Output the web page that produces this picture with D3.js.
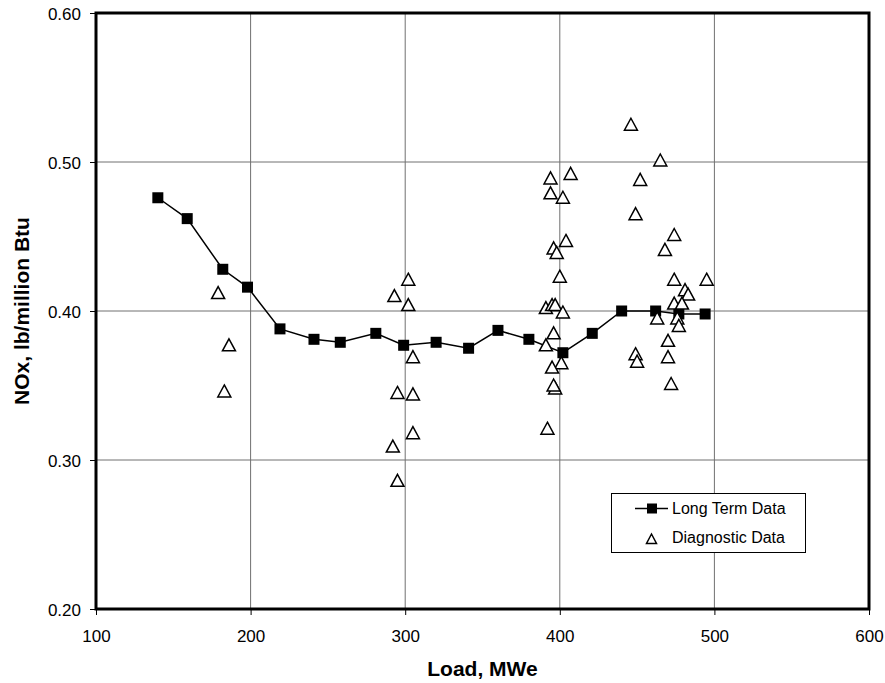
<!DOCTYPE html>
<html>
<head>
<meta charset="utf-8">
<script src="https://cdn.jsdelivr.net/npm/d3@7"></script>
<style>
  html, body { margin: 0; padding: 0; background: #fff; }
  svg { display: block; font-family: "Liberation Sans", Arial, sans-serif; }
</style>
</head>
<body>
<svg id="chart" width="885" height="683"></svg>
<script>
// ---- Data ----
const longTermLoad = [140, 159, 182, 198, 219, 241, 258, 281, 299, 320, 341, 360, 380, 402, 421, 440, 462, 477, 494];
const longTermNOx  = [0.476, 0.462, 0.428, 0.416, 0.388, 0.381, 0.379, 0.385, 0.377, 0.379, 0.375, 0.387, 0.381, 0.372, 0.385, 0.400, 0.400, 0.398, 0.398];

const diagLoad = [179, 186, 183,
  302, 293, 302, 305, 295, 305, 305, 292, 295,
  446, 465, 452, 407, 394, 394, 402, 449, 474, 404, 396, 398, 468, 400, 474, 495, 481, 483,
  474, 479, 391, 395, 397, 402, 463, 476, 477, 396, 391, 470, 449, 450, 470, 401, 395, 397, 396, 472, 392];
const diagNOx = [0.412, 0.377, 0.346,
  0.421, 0.410, 0.404, 0.369, 0.345, 0.344, 0.318, 0.309, 0.286,
  0.525, 0.501, 0.488, 0.492, 0.489, 0.479, 0.476, 0.465, 0.451, 0.447, 0.442, 0.439, 0.441, 0.423, 0.421, 0.421, 0.414, 0.411,
  0.405, 0.405, 0.402, 0.404, 0.404, 0.399, 0.395, 0.395, 0.390, 0.385, 0.377, 0.380, 0.371, 0.366, 0.369, 0.365, 0.362, 0.348, 0.350, 0.351, 0.321];

const xTicks = [100, 200, 300, 400, 500, 600];
const yTicks = [0.20, 0.30, 0.40, 0.50, 0.60];
const xTitle = "Load, MWe";
const yTitle = "NOx, lb/million Btu";
const seriesNames = ["Long Term Data", "Diagnostic Data"];

// ---- Layout ----
const svg = d3.select("#chart");
const L = 96, R = 869, T = 13, B = 609;

const x = d3.scaleLinear().domain([100, 600]).range([L, R]);
const y = d3.scaleLinear().domain([0.20, 0.60]).range([B, T]);

// grid
const grid = svg.append("g");
grid.selectAll("line.vx").data(xTicks.slice(1, -1)).join("line")
  .attr("x1", d => x(d)).attr("x2", d => x(d)).attr("y1", T).attr("y2", B)
  .attr("stroke", "#707070").attr("stroke-width", 1);
grid.selectAll("line.hy").data(yTicks.slice(1, -1)).join("line")
  .attr("x1", L).attr("x2", R).attr("y1", d => y(d)).attr("y2", d => y(d))
  .attr("stroke", "#707070").attr("stroke-width", 1);

// axes
const xAxis = d3.axisBottom(x).tickValues(xTicks).tickSize(6).tickPadding(15).tickFormat(d3.format("d"));
const yAxis = d3.axisLeft(y).tickValues(yTicks).tickSize(6).tickPadding(9).tickFormat(d3.format(".2f"));

const gx = svg.append("g").attr("transform", `translate(0,${B})`).call(xAxis);
const gy = svg.append("g").attr("transform", `translate(${L},0)`).call(yAxis);
[gx, gy].forEach(g => {
  g.select(".domain").remove();
  g.selectAll(".tick line").attr("stroke", "#000").attr("stroke-width", 1);
  g.selectAll(".tick text").attr("fill", "#000").style("font-size", "17px")
    .style("font-family", "'Liberation Sans', Arial, sans-serif");
});
gy.selectAll(".tick text").attr("dy", "0.36em");

// frame
svg.append("rect").attr("x", L).attr("y", T).attr("width", R - L).attr("height", B - T)
  .attr("fill", "none").attr("stroke", "#000").attr("stroke-width", 3);

// long term series
const lt = longTermLoad.map((d, i) => ({x: d, y: longTermNOx[i]}));
const line = d3.line().x(d => x(d.x)).y(d => y(d.y));
svg.append("path").datum(lt).attr("d", line)
  .attr("fill", "none").attr("stroke", "#000").attr("stroke-width", 1.5);
const sq = 11;
svg.append("g").selectAll("rect").data(lt).join("rect")
  .attr("x", d => x(d.x) - sq / 2).attr("y", d => y(d.y) - sq / 2)
  .attr("width", sq).attr("height", sq).attr("fill", "#000");

// diagnostic series
const dg = diagLoad.map((d, i) => ({x: d, y: diagNOx[i]}));
const tri = "M0,-6.5L6.5,5.5L-6.5,5.5Z";
svg.append("g").selectAll("path").data(dg).join("path")
  .attr("d", tri)
  .attr("transform", d => `translate(${x(d.x)},${y(d.y)})`)
  .attr("fill", "#fff").attr("stroke", "#000").attr("stroke-width", 1.5);

// titles
svg.append("text").attr("x", (L + R) / 2).attr("y", 676).attr("text-anchor", "middle")
  .style("font-size", "21px").style("font-weight", "bold").text(xTitle);
svg.append("text").attr("transform", `translate(29,${(T + B) / 2}) rotate(-90)`)
  .attr("text-anchor", "middle").style("font-size", "21px").style("font-weight", "bold").text(yTitle);

// legend
const lg = svg.append("g");
lg.append("rect").attr("x", 611.5).attr("y", 493.5).attr("width", 194).attr("height", 59)
  .attr("fill", "#fff").attr("stroke", "#000").attr("stroke-width", 1);
lg.append("line").attr("x1", 635).attr("x2", 668).attr("y1", 508.5).attr("y2", 508.5)
  .attr("stroke", "#000").attr("stroke-width", 1.5);
lg.append("rect").attr("x", 647).attr("y", 503.5).attr("width", 10).attr("height", 10).attr("fill", "#000");
lg.append("path").attr("d", "M0,-5L5,4.5L-5,4.5Z").attr("transform", "translate(651.5,539)")
  .attr("fill", "#fff").attr("stroke", "#000").attr("stroke-width", 1.5);
lg.append("text").attr("x", 672).attr("y", 514).style("font-size", "16px").text(seriesNames[0]);
lg.append("text").attr("x", 672).attr("y", 543).style("font-size", "16px").text(seriesNames[1]);
</script>
</body>
</html>
